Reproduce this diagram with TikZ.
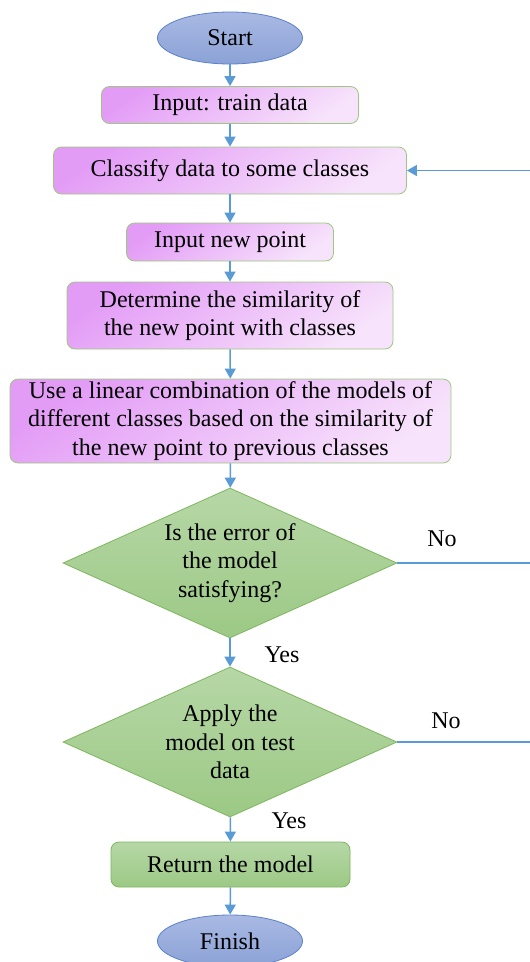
\documentclass[tikz,border=0pt]{standalone}
\usepackage{fontspec}
\setmainfont{Liberation Serif}
\usetikzlibrary{shapes.geometric,arrows.meta}
\begin{document}
\begin{tikzpicture}[x=1pt, y=-1pt,
  every node/.style={font=\fontsize{24}{28.5}\selectfont, text=black},
  termbox/.style={ellipse, draw=termLine, line width=0.8pt, top color=termTop, bottom color=termBot, minimum width=145, minimum height=52, inner sep=0},
  stepbox/.style={rectangle, rounded corners=8pt, draw=boxLine, line width=0.8pt, top color=pinkTop, bottom color=pinkBot, shading angle=35, align=center, inner sep=0},
  endbox/.style={rectangle, rounded corners=8pt, draw=decLine, line width=0.8pt, top color=decTop, bottom color=decBot, align=center, inner sep=0},
  testbox/.style={diamond, draw=decLine, line width=0.8pt, top color=decTop, bottom color=decBot, align=center, inner sep=1pt, minimum width=334, minimum height=150, shape aspect=2.2},
  flow/.style={draw=flowLine, line width=1.5pt, -{Triangle[width=11pt,length=10pt]}},
  plain/.style={draw=flowLine, line width=1.5pt}]
\definecolor{termTop}{HTML}{A9B9E3}
\definecolor{termBot}{HTML}{8BA2D6}
\definecolor{termLine}{HTML}{5B80CC}
\definecolor{pinkTop}{HTML}{E39CF6}
\definecolor{pinkBot}{HTML}{F7E3FB}
\definecolor{boxLine}{HTML}{9CC97F}
\definecolor{decTop}{HTML}{B6D7A6}
\definecolor{decBot}{HTML}{9CC985}
\definecolor{decLine}{HTML}{7EB65E}
\definecolor{flowLine}{HTML}{5B9BD5}
\useasboundingbox (0,0) rectangle (530,962);
% nodes
\node[termbox] (start) at (230,38) {Start};
\node[stepbox, minimum width=257, minimum height=37] (train) at (230,105) {Input: train data};
\node[stepbox, minimum width=353, minimum height=47] (classify) at (230,170.5) {Classify data to some classes};
\node[stepbox, minimum width=207, minimum height=38] (newpt) at (230,242) {Input new point};
\node[stepbox, minimum width=326, minimum height=67] (similar) at (230,315.5) {Determine the similarity of\\the new point with classes};
\node[stepbox, minimum width=441, minimum height=84] (combine) at (230.5,421) {Use a linear combination of the models of\\different classes based on the similarity of\\the new point to previous classes};
\node[testbox] (errtest) at (230,563) {Is the error of\\the model\\satisfying?};
\node[testbox] (datatest) at (230,742) {Apply the\\model on test\\data};
\node[endbox, minimum width=239, minimum height=45] (result) at (230.5,864.5) {Return the model};
\node[termbox] (finish) at (230,941) {Finish};
% labels
\node (no1) at (442,539) {No};
\node (yes1) at (282,655) {Yes};
\node (no2) at (446,721) {No};
\node (yes2) at (289,821) {Yes};
% loose ends at the right edge
\coordinate (back) at (530,170.5);
\coordinate (out1) at (530,563);
\coordinate (out2) at (530,742);
% connectors
\draw[flow] (start) -- (train);
\draw[flow] (train) -- (classify);
\draw[flow] (classify) -- (newpt);
\draw[flow] (newpt) -- (similar);
\draw[flow] (similar) -- (combine);
\draw[flow] (combine) -- (errtest);
\draw[flow] (errtest) -- (datatest);
\draw[flow] (datatest) -- (result);
\draw[flow] (result) -- (finish);
\draw[flow] (back) -- (classify);
\draw[plain] (errtest.east) -- (out1);
\draw[plain] (datatest.east) -- (out2);
\end{tikzpicture}
\end{document}
